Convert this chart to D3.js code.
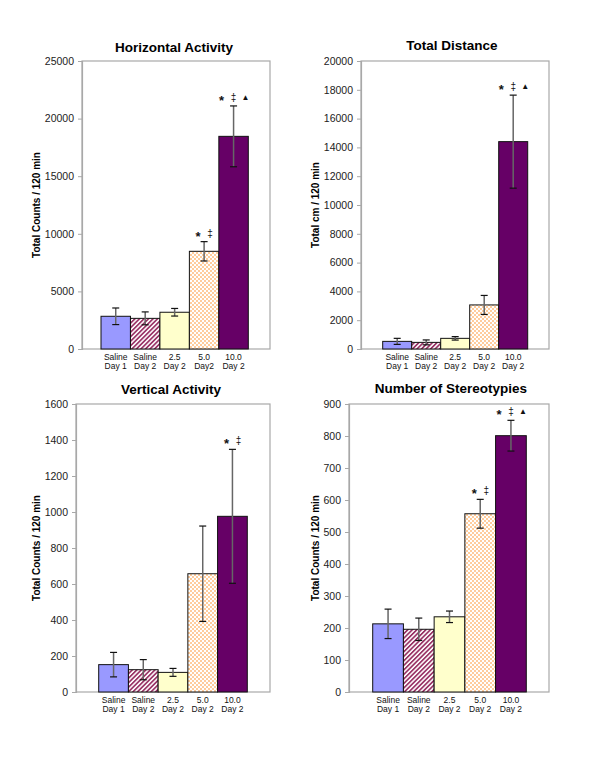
<!DOCTYPE html>
<html>
<head>
<meta charset="utf-8">
<script src="https://cdn.jsdelivr.net/npm/d3@7"></script>
<style>
  html, body { margin: 0; padding: 0; background: #fff; }
  svg { display: block; font-family: "Liberation Sans", Arial, sans-serif; }
</style>
</head>
<body>
<svg id="chart" width="600" height="776"></svg>
<script>
// ---------------- DATA ----------------
const categoriesLine1 = ["Saline", "Saline", "2.5", "5.0", "10.0"];
const categoriesLine2 = ["Day 1", "Day 2", "Day 2", "Day 2", "Day 2"];
const categoriesLine2Horizontal = ["Day 1", "Day 2", "Day 2", "Day2", "Day 2"];

const horizontalMeans = [2840, 2660, 3190, 8480, 18460];
const horizontalErrors = [720, 560, 330, 840, 2640];
const horizontalTicks = [0, 5000, 10000, 15000, 20000, 25000];
const horizontalMarks = ["", "", "", "* ‡", "* ‡ ▲"];

const distanceMeans = [530, 460, 740, 3060, 14400];
const distanceErrors = [210, 170, 120, 660, 3230];
const distanceTicks = [0, 2000, 4000, 6000, 8000, 10000, 12000, 14000, 16000, 18000, 20000];
const distanceMarks = ["", "", "", "", "* ‡ ▲"];

const verticalMeans = [152, 124, 109, 657, 976];
const verticalErrors = [68, 56, 22, 265, 372];
const verticalTicks = [0, 200, 400, 600, 800, 1000, 1200, 1400, 1600];
const verticalMarks = ["", "", "", "", "* ‡"];

const stereoMeans = [213, 196, 235, 557, 801];
const stereoErrors = [46, 35, 18, 45, 48];
const stereoTicks = [0, 100, 200, 300, 400, 500, 600, 700, 800, 900];
const stereoMarks = ["", "", "", "* ‡", "* ‡ ▲"];

const titles = ["Horizontal Activity", "Total Distance", "Vertical Activity", "Number of Stereotypies"];
const yTitles = ["Total Counts / 120 min", "Total cm / 120 min", "Total Counts / 120 min", "Total Counts / 120 min"];

// ---------------- LAYOUT ----------------
const panels = [
  { title: titles[0], yTitle: yTitles[0], means: horizontalMeans, errs: horizontalErrors, ticks: horizontalTicks, marks: horizontalMarks, line2: categoriesLine2Horizontal,
    box: [82, 61, 270, 349], bars: [101, 248.3], titleX: 174, titleY: 52, yTitleX: 36 },
  { title: titles[1], yTitle: yTitles[1], means: distanceMeans, errs: distanceErrors, ticks: distanceTicks, marks: distanceMarks, line2: categoriesLine2,
    box: [361, 61, 549, 349], bars: [382.7, 527.7], titleX: 452, titleY: 50, yTitleX: 315 },
  { title: titles[2], yTitle: yTitles[2], means: verticalMeans, errs: verticalErrors, ticks: verticalTicks, marks: verticalMarks, line2: categoriesLine2,
    box: [76, 404, 270, 692], bars: [98.7, 247.3], titleX: 171, titleY: 394, yTitleX: 36 },
  { title: titles[3], yTitle: yTitles[3], means: stereoMeans, errs: stereoErrors, ticks: stereoTicks, marks: stereoMarks, line2: categoriesLine2,
    box: [349, 404, 549, 692], bars: [372.7, 526.3], titleX: 451, titleY: 393, yTitleX: 315 }
];

const svg = d3.select("#chart");
const defs = svg.append("defs");

// stripes pattern (Saline Day 2)
const stripe = defs.append("pattern").attr("id", "stripes")
  .attr("patternUnits", "userSpaceOnUse").attr("width", 3.2).attr("height", 3.2)
  .attr("patternTransform", "rotate(45)");
stripe.append("rect").attr("width", 3.2).attr("height", 3.2).attr("fill", "#ffffff");
stripe.append("rect").attr("width", 1.7).attr("height", 3.2).attr("fill", "#993366");

// checker pattern (5.0)
const check = defs.append("pattern").attr("id", "checker")
  .attr("patternUnits", "userSpaceOnUse").attr("width", 4).attr("height", 4);
check.append("rect").attr("width", 4).attr("height", 4).attr("fill", "#ffffff");
check.append("rect").attr("width", 2).attr("height", 2).attr("fill", "#ffcc9c");
check.append("rect").attr("x", 2).attr("y", 2).attr("width", 2).attr("height", 2).attr("fill", "#ffcc9c");

const fills = ["#9999ff", "url(#stripes)", "#ffffcc", "url(#checker)", "#660066"];

panels.forEach(p => {
  const [x0, y0, x1, y1] = p.box;
  const g = svg.append("g");
  const y = d3.scaleLinear().domain([p.ticks[0], p.ticks[p.ticks.length - 1]]).range([y1, y0]);
  const x = d3.scaleBand().domain(d3.range(p.means.length)).range(p.bars).paddingInner(0).paddingOuter(0);

  // plot area border
  g.append("rect").attr("x", x0).attr("y", y0).attr("width", x1 - x0).attr("height", y1 - y0)
    .attr("fill", "none").attr("stroke", "#a8a8a8").attr("stroke-width", 1.2);

  // y axis
  const ax = g.append("g").attr("transform", `translate(${x0},0)`)
    .call(d3.axisLeft(y).tickValues(p.ticks).tickSize(4).tickPadding(4).tickFormat(d3.format("d")));
  ax.select(".domain").attr("stroke", "#a8a8a8").attr("stroke-width", 1.2);
  ax.selectAll(".tick line").attr("stroke", "#a8a8a8");
  ax.selectAll(".tick text").attr("fill", "#222").style("font-size", "10.5px")
    .style("font-family", "'Liberation Sans', Arial, sans-serif");

  // bars
  g.selectAll("rect.bar").data(p.means).enter().append("rect").attr("class", "bar")
    .attr("x", (d, i) => x(i)).attr("width", x.bandwidth())
    .attr("y", d => y(d)).attr("height", d => y(0) - y(d))
    .attr("fill", (d, i) => fills[i]).attr("stroke", "#111").attr("stroke-width", 1);

  // error bars
  p.means.forEach((m, i) => {
    const cx = x(i) + x.bandwidth() / 2;
    const top = y(m + p.errs[i]), bot = y(m - p.errs[i]);
    g.append("line").attr("x1", cx).attr("x2", cx).attr("y1", top).attr("y2", bot)
      .attr("stroke", "#666").attr("stroke-width", 1.5);
    [top, bot].forEach(yy => g.append("line").attr("x1", cx - 3.5).attr("x2", cx + 3.5)
      .attr("y1", yy).attr("y2", yy).attr("stroke", "#111").attr("stroke-width", 1.2));

    // significance marks
    if (p.marks[i]) {
      const syms = p.marks[i].split(" ");
      const n = syms.length;
      syms.forEach((s, k) => {
        const sx = cx + (k - (n - 1) / 2) * 12;
        const t = g.append("text").attr("x", sx).attr("text-anchor", "middle").attr("fill", "#111").text(s);
        if (s === "*") t.attr("y", top - 1).style("font-size", "13px").style("font-weight", "bold");
        else if (s === "‡") t.attr("y", top - 5).style("font-size", "10px");
        else t.attr("y", top - 6).style("font-size", "8px");
      });
    }
  });

  // x labels
  p.means.forEach((m, i) => {
    const cx = x(i) + x.bandwidth() / 2;
    g.append("text").attr("x", cx).attr("y", y1 + 10.5).attr("text-anchor", "middle")
      .style("font-size", "8.5px").attr("fill", "#111").text(categoriesLine1[i]);
    g.append("text").attr("x", cx).attr("y", y1 + 20).attr("text-anchor", "middle")
      .style("font-size", "8.5px").attr("fill", "#111").text(p.line2[i]);
  });

  // title
  g.append("text").attr("x", p.titleX).attr("y", p.titleY).attr("text-anchor", "middle")
    .style("font-size", "13.5px").style("font-weight", "bold").attr("fill", "#000").text(p.title);

  // y title
  const cy = (y0 + y1) / 2;
  g.append("text").attr("transform", `translate(${p.yTitleX},${cy}) rotate(-90)`)
    .attr("text-anchor", "middle").attr("dy", "0.35em")
    .style("font-size", "10px").style("font-weight", "bold").attr("fill", "#000").text(p.yTitle);
});
</script>
</body>
</html>
